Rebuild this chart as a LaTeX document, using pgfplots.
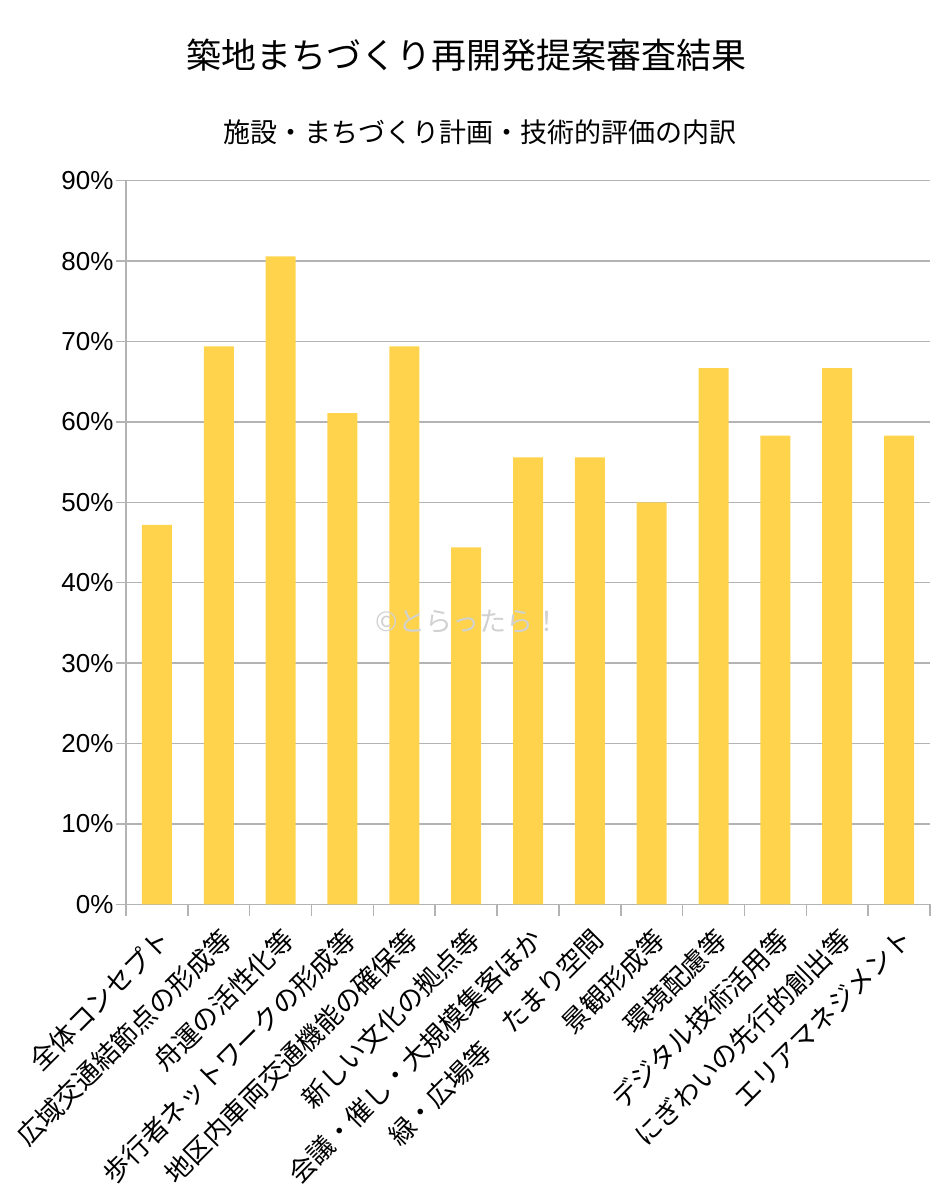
\documentclass[border=0pt]{standalone}
\usepackage{fontspec}
\setmainfont{Liberation Sans}
\newfontfamily\jp{Noto Sans CJK JP}
\usepackage{pgfplots}
\pgfplotsset{compat=1.18}
\definecolor{barcol}{RGB}{255,212,76}
\definecolor{gridgray}{RGB}{179,179,179}
\begin{document}
\begin{tikzpicture}[x=1pt,y=1pt]
\path[use as bounding box] (0,0) rectangle (946,-1200);
\node[font=\jp\fontsize{35}{40}\selectfont] at (466,-55) {築地まちづくり再開発提案審査結果};
\node[font=\jp\fontsize{27}{32}\selectfont] at (480,-132) {施設・まちづくり計画・技術的評価の内訳};
\begin{axis}[at={(126pt,-904.3pt)}, anchor=south west, scale only axis,
  width=804pt, height=723.6pt,
  ymin=0, ymax=90, xmin=-0.5, xmax=12.5,
  ytick={0,10,...,90},
  yticklabel={\pgfmathprintnumber{\tick}\%},
  /pgf/number format/assume math mode=true,
  yticklabel style={font=\fontsize{26}{30}\selectfont, xshift=1pt},
  axis lines=left,
  axis line style={-, draw=gridgray, line width=1.5pt},
  ymajorgrids, grid style={draw=gridgray, line width=1.5pt},
  tick align=outside,
  major tick length=10pt, minor tick length=12pt,
  ytick style={draw=gridgray, line width=1.5pt},
  major x tick style={draw=none},
  minor x tick style={draw=gridgray, line width=1.5pt},
  xtick={0,...,12},
  minor xtick={-0.5,0.5,...,12.5},
  xticklabels={全体コンセプト,広域交通結節点の形成等,舟運の活性化等,歩行者ネットワークの形成等,地区内車両交通機能の確保等,新しい文化の拠点等,会議・催し・大規模集客ほか,緑・広場等　たまり空間,景観形成等,環境配慮等,デジタル技術活用等,にぎわいの先行的創出等,エリアマネジメント},
  xticklabel style={font=\jp\fontsize{26.5}{30}\selectfont, rotate=45, anchor=north east, inner sep=2pt, xshift=-6pt, yshift=-6pt},
  ybar, bar width=30pt,
]
\addplot[fill=barcol, draw=none] coordinates {
(0,47.2) (1,69.4) (2,80.6) (3,61.1) (4,69.4) (5,44.4) (6,55.6)
(7,55.6) (8,50.0) (9,66.7) (10,58.3) (11,66.7) (12,58.3)};
\end{axis}
\node[text=black!18, font=\jp\fontsize{27}{30}\selectfont] at (468,-622) {©とらったら！};
\end{tikzpicture}
\end{document}
